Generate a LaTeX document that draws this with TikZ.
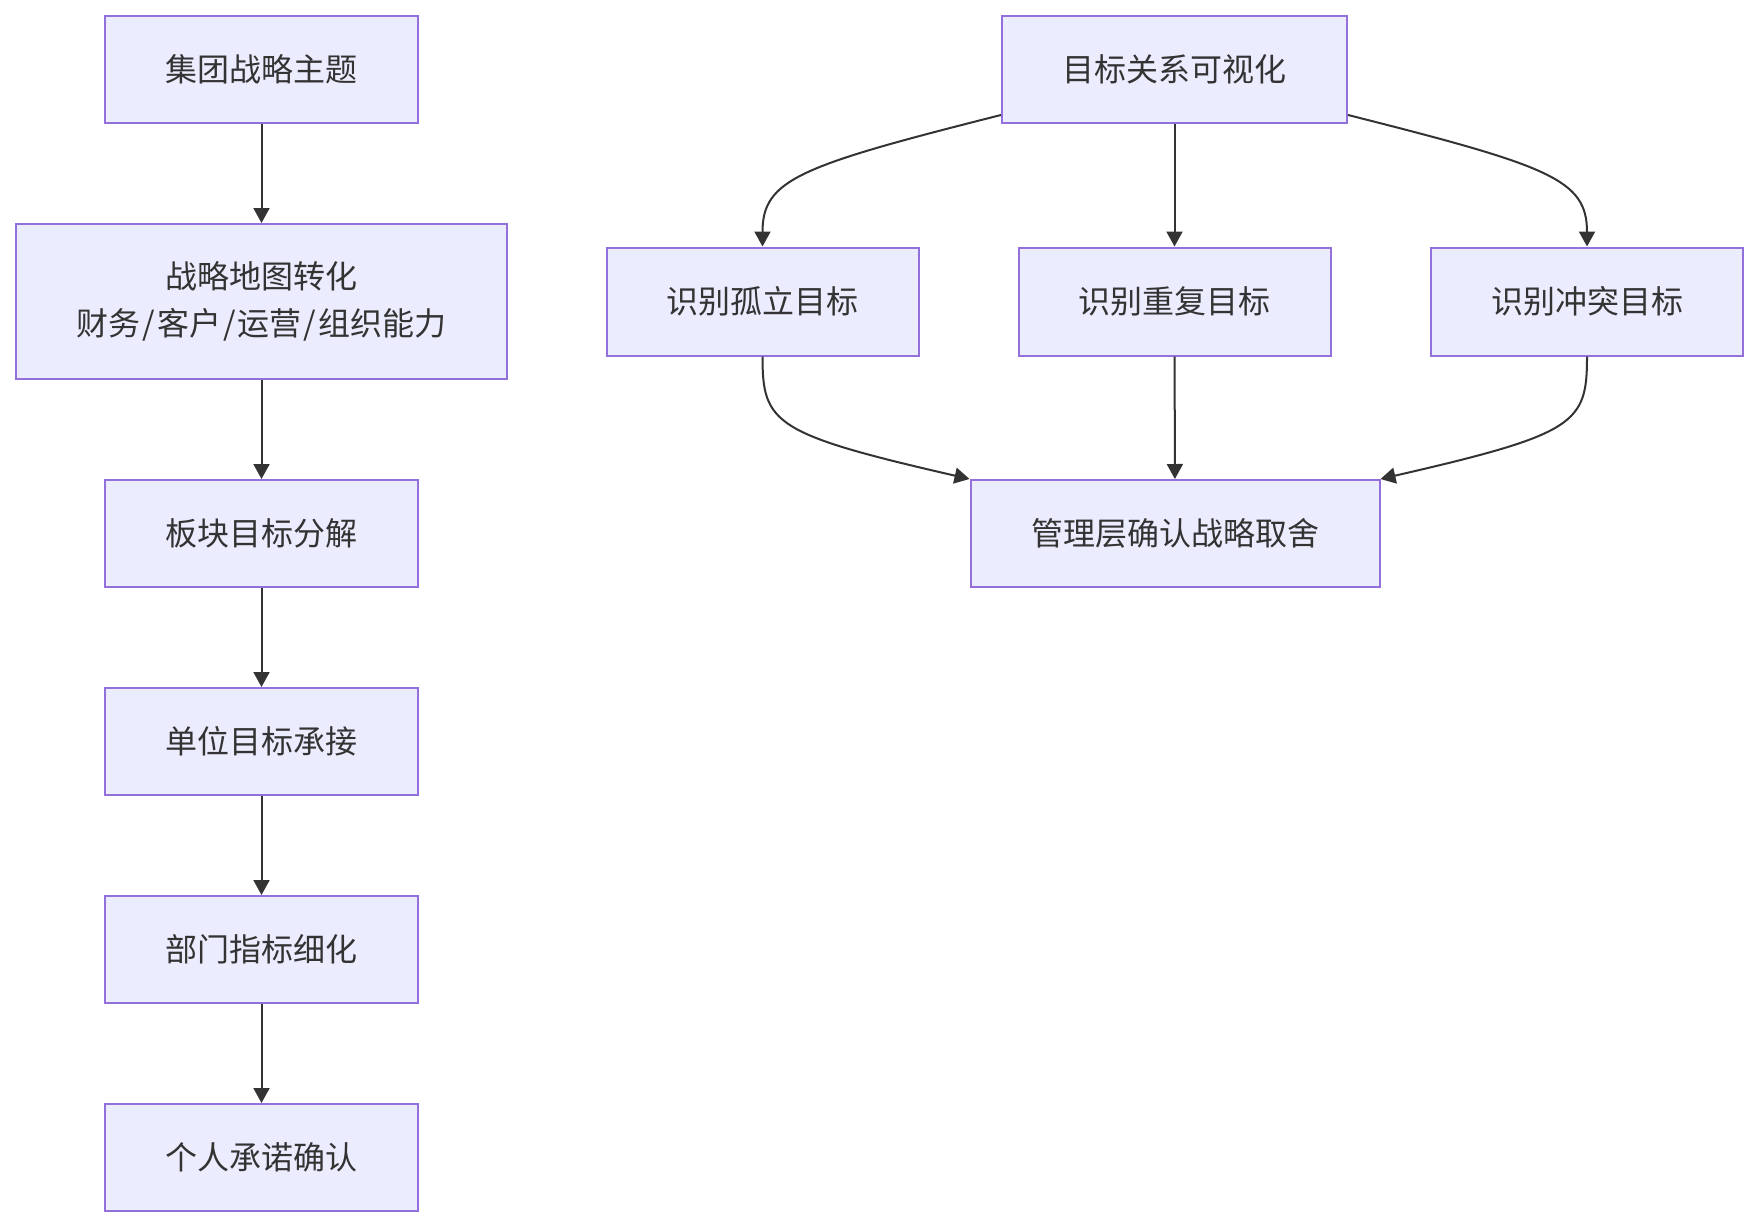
\documentclass[tikz,border=0pt]{standalone}
\usepackage{fontspec}
\setmainfont{Noto Sans CJK SC}
\usetikzlibrary{arrows.meta}
\definecolor{boxfill}{HTML}{ECECFF}
\definecolor{boxline}{HTML}{9370DB}
\definecolor{ink}{HTML}{333333}
\newcommand{\slsep}{\hspace{2pt}/\hspace{2pt}}
\tikzset{
  box/.style={draw=boxline, fill=boxfill, line width=2pt, inner sep=0pt,
    minimum height=107pt, text=ink, align=center,
    font=\fontsize{32}{47}\selectfont},
  conn/.style={draw=ink, line width=2pt,
    -{Triangle[length=15pt,width=16pt]}}
}
\begin{document}
\begin{tikzpicture}[x=1pt,y=-1pt]
\useasboundingbox (0,0) rectangle (1758,1228);
% left chain
\node[box, minimum width=313pt] (a) at (261.5,69.5) {集团战略主题};
\node[box, minimum width=491pt, minimum height=155pt] (b) at (261.5,301.5) {战略地图转化\\财务\slsep 客户\slsep 运营\slsep 组织能力};
\node[box, minimum width=313pt] (c) at (261.5,533.5) {板块目标分解};
\node[box, minimum width=313pt] (d) at (261.5,741.5) {单位目标承接};
\node[box, minimum width=313pt] (e) at (261.5,949.5) {部门指标细化};
\node[box, minimum width=313pt] (f) at (261.5,1157.5) {个人承诺确认};
% right group
\node[box, minimum width=345pt] (viz) at (1174.5,69.5) {目标关系可视化};
\node[box, minimum width=312pt, minimum height=108pt] (iso) at (762.5,301.5) {识别孤立目标};
\node[box, minimum width=312pt, minimum height=108pt] (dup) at (1174.5,301.5) {识别重复目标};
\node[box, minimum width=312pt, minimum height=108pt] (con) at (1587,301.5) {识别冲突目标};
\node[box, minimum width=409pt] (mg) at (1175,533.5) {管理层确认战略取舍};
% connectors
\draw[conn] (a) -- (b);
\draw[conn] (b) -- (c);
\draw[conn] (c) -- (d);
\draw[conn] (d) -- (e);
\draw[conn] (e) -- (f);
\draw[conn] (viz) -- (dup);
\draw[conn] (dup) -- (mg);
\draw[conn] ([yshift=9pt]viz.south west) .. controls +(-202,51) and +(0,-67) .. (iso.north);
\draw[conn] ([yshift=9pt]viz.south east) .. controls +(202,51) and +(0,-67) .. (con.north);
\draw[conn] (iso.south) .. controls +(0,67) and +(-196,-45) .. (mg.north west);
\draw[conn] (con.south) .. controls +(0,67) and +(196,-45) .. (mg.north east);
\end{tikzpicture}
\end{document}
